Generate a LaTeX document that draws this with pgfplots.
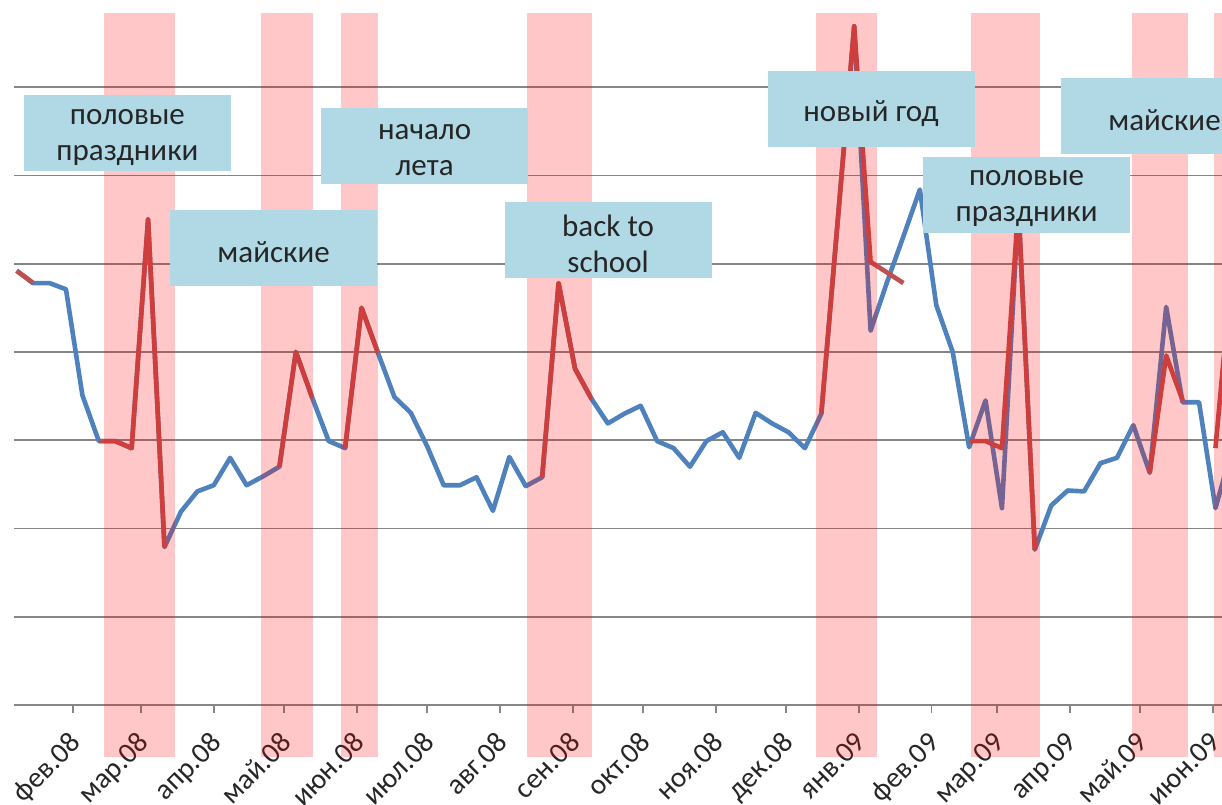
\documentclass[border=0pt]{standalone}
\usepackage{pgfplots}
\pgfplotsset{compat=1.18}
\usepackage{pgfplotstable}
\usepackage{fontspec}
\setmainfont{Carlito}
\definecolor{lineblue}{RGB}{79,129,189}
\definecolor{linered}{RGB}{192,80,77}
\definecolor{boxblue}{RGB}{176,216,229}
\definecolor{gridgray}{RGB}{134,134,134}
\pgfplotstableread{
day v
7 4.92
14 4.78
21 4.78
28 4.71
35 3.51
42 2.99
49 2.99
56 2.91
63 5.50
70 1.79
77 2.19
84 2.42
91 2.49
98 2.80
105 2.49
112 2.59
119 2.70
126 4.00
133 3.48
140 2.99
147 2.91
154 4.50
161 3.99
168 3.49
175 3.31
182 2.93
189 2.49
196 2.49
203 2.58
210 2.20
217 2.81
224 2.48
231 2.58
238 4.78
245 3.81
252 3.47
259 3.19
266 3.30
273 3.39
280 2.99
287 2.91
294 2.70
301 2.99
308 3.09
315 2.80
322 3.31
329 3.19
336 3.09
343 2.91
350 3.30
357 5.49
364 7.69
371 4.24
378 4.79
385 5.31
392 5.84
399 4.53
406 4.00
413 2.92
420 3.45
427 2.23
434 5.66
441 1.76
448 2.26
455 2.43
462 2.42
469 2.74
476 2.80
483 3.17
490 2.63
497 4.51
504 3.43
511 3.43
518 2.23
525 2.89
}\bluedata
\pgfplotstableread{
day v
7 4.92
14 4.78
17 nan
42 2.99
49 2.99
56 2.91
63 5.50
70 1.79
73 nan
119 2.70
126 4.00
133 3.48
136 nan
147 2.91
154 4.50
161 3.99
164 nan
231 2.58
238 4.78
245 3.81
252 3.47
255 nan
350 3.30
357 5.49
364 7.69
371 5.02
378 4.90
385 4.78
388 nan
413 2.99
420 2.99
427 2.91
434 5.66
441 1.76
444 nan
490 2.63
497 3.96
504 3.45
507 nan
518 2.91
525 4.93
}\reddata
\begin{document}
\begin{tikzpicture}
\begin{axis}[
  at={(0,0)}, anchor=south west,
  scale only axis,
  width=604pt, height=346pt,
  xmin=5.85, xmax=520.8,
  ymin=0, ymax=7.84,
  clip=false,
  axis line style={draw=none},
  ytick={0,1,...,7},
  yticklabels={},
  ymajorgrids,
  ytick style={draw=none},
  major grid style={gridgray, line width=0.9pt},
  xtick={31,60,91,121,152,182,213,244,274,305,335,366,397,425,456,486,517},
  xticklabels={фев.08,мар.08,апр.08,май.08,июн.08,июл.08,авг.08,сен.08,окт.08,ноя.08,дек.08,янв.09,фев.09,мар.09,апр.09,май.09,июн.09},
  xtick pos=bottom,
  tick align=outside,
  major tick length=4pt,
  xtick style={gridgray, line width=0.9pt},
  xticklabel style={rotate=45, anchor=north east, font=\fontsize{14.5}{16}\selectfont, text=black!85, inner sep=1pt, xshift=-6.7pt, yshift=-3.2pt},
  unbounded coords=jump,
]
\addplot[lineblue, line width=2.3pt, line join=round, no markers] table[x=day, y=v] {\bluedata};
\addplot[linered, line width=2.3pt, line join=round, no markers] table[x=day, y=v] {\reddata};
% highlighted periods
\fill[red, fill opacity=0.22] (axis cs:44.2,-0.59) rectangle (axis cs:74.5,7.84);
\fill[red, fill opacity=0.22] (axis cs:111.2,-0.59) rectangle (axis cs:133.3,7.84);
\fill[red, fill opacity=0.22] (axis cs:145.3,-0.59) rectangle (axis cs:161.0,7.84);
\fill[red, fill opacity=0.22] (axis cs:224.6,-0.59) rectangle (axis cs:252.3,7.84);
\fill[red, fill opacity=0.22] (axis cs:347.8,-0.59) rectangle (axis cs:373.8,7.84);
\fill[red, fill opacity=0.22] (axis cs:413.8,-0.59) rectangle (axis cs:443.3,7.84);
\fill[red, fill opacity=0.22] (axis cs:482.5,-0.59) rectangle (axis cs:506.3,7.84);
\fill[red, fill opacity=0.22] (axis cs:517.4,-0.59) rectangle (axis cs:530,7.84);
% labels
\tikzset{
  lblbox/.style={fill=boxblue, minimum width=103.5pt, minimum height=38pt, inner sep=0pt},
  lbltxt/.style={align=center, text=black!85, inner sep=0pt, yshift=-2pt, font=\fontsize{15.5}{18}\selectfont}}
\node[lblbox] at (axis cs:54.2,6.48) {};
\node[lbltxt] at (axis cs:54.2,6.48) {половые\\праздники};
\node[lblbox] at (axis cs:116.5,5.18) {};
\node[lbltxt] at (axis cs:116.5,5.18) {майские};
\node[lblbox] at (axis cs:180.9,6.33) {};
\node[lbltxt] at (axis cs:180.9,6.33) {начало\\лета};
\node[lblbox] at (axis cs:259.1,5.27) {};
\node[lbltxt] at (axis cs:259.1,5.27) {back to\\school};
\node[lblbox] at (axis cs:371.2,6.75) {};
\node[lbltxt] at (axis cs:371.2,6.75) {новый год};
\node[lblbox] at (axis cs:437.5,5.78) {};
\node[lbltxt] at (axis cs:437.5,5.78) {половые\\праздники};
\node[lblbox] at (axis cs:496.3,6.67) {};
\node[lbltxt] at (axis cs:496.3,6.67) {майские};
\end{axis}
\pgfresetboundingbox
\useasboundingbox (-7pt,-49.5pt) rectangle (604pt,352.5pt);
\end{tikzpicture}
\end{document}
